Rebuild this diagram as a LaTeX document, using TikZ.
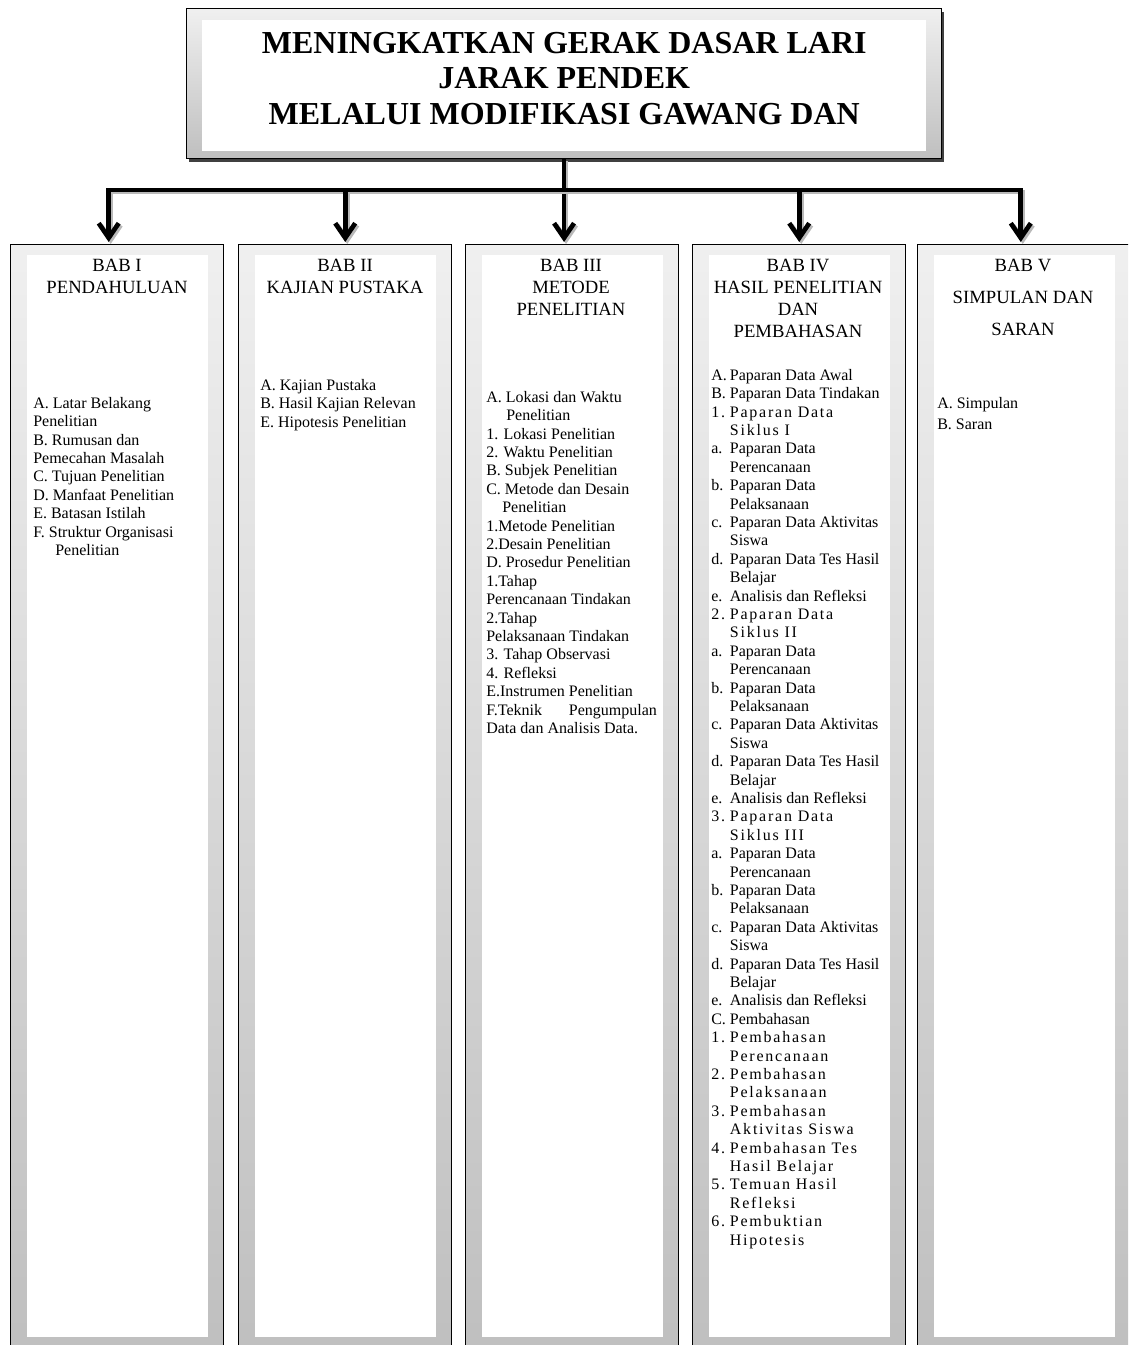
\documentclass[tikz,border=0pt]{standalone}
\usepackage{fontspec}
\setmainfont{Liberation Serif}
\usepackage{tikz}
\usetikzlibrary{arrows.meta,shadows}

\newcommand{\butir}[2]{\makebox[14pt][l]{#1}#2}
\newcommand{\lanjut}{\hspace*{14pt}}
\newcommand{\renggang}[1]{{\addfontfeature{LetterSpace=11}#1}}
\newcommand{\paparansiklus}{%
\butir{a.}{Paparan Data}\\
\lanjut Perencanaan\\
\butir{b.}{Paparan Data}\\
\lanjut Pelaksanaan\\
\butir{c.}{Paparan Data Aktivitas}\\
\lanjut Siswa\\
\butir{d.}{Paparan Data Tes Hasil}\\
\lanjut Belajar\\
\butir{e.}{Analisis dan Refleksi}}

\begin{document}
\begin{tikzpicture}[x=0.75pt,y=-0.75pt,>={Straight Barb[length=11pt,width=15pt]}]
\tikzstyle{bingkai}=[rectangle,draw=black,line width=1.1pt,top color=gray!12,bottom color=gray!50,inner sep=0pt,anchor=north west]
\tikzstyle{kertas}=[rectangle,fill=white,inner sep=0pt,anchor=north west]
\tikzstyle{panah}=[line width=3.5pt,preaction={draw=gray!55,line width=3.5pt,transform canvas={shift={(1.5pt,-1.5pt)}}}]
\tikzstyle{kepala}=[anchor=north,align=center,inner sep=0pt,font=\fontsize{14}{16.5}\selectfont]
\tikzstyle{daftar}=[anchor=north west,align=left,inner sep=0pt,font=\fontsize{12}{13.8}\selectfont]
\useasboundingbox (0,0) rectangle (1128,1345);
\clip (0,0) rectangle (1128,1345);

% judul
\node[bingkai,minimum width=566pt,minimum height=112.5pt,drop shadow={shadow xshift=2pt,shadow yshift=-2.5pt,fill=black!75,opacity=1}] (judul) at (186,8) {};
\node[kertas,minimum width=543pt,minimum height=98.25pt] (judulisi) at (202,20) {};
\node[anchor=center,align=center,font=\fontsize{24}{26.8}\selectfont\bfseries] (judulteks) at ([yshift=5.5pt]judulisi.center) {MENINGKATKAN GERAK DASAR LARI\\JARAK PENDEK\\MELALUI MODIFIKASI GAWANG DAN};

% kotak bab
\node[bingkai,minimum width=159.75pt,minimum height=829.5pt] (bab1) at (10,244) {};
\node[bingkai,minimum width=159.75pt,minimum height=829.5pt] (bab2) at (238,244) {};
\node[bingkai,minimum width=159.75pt,minimum height=829.5pt] (bab3) at (465,244) {};
\node[bingkai,minimum width=159.75pt,minimum height=829.5pt] (bab4) at (692,244) {};
\node[bingkai,minimum width=159.75pt,minimum height=829.5pt] (bab5) at (917,244) {};
\node[kertas,minimum width=135.75pt,minimum height=811.5pt] (isi1) at (27,255) {};
\node[kertas,minimum width=135.75pt,minimum height=811.5pt] (isi2) at (255,255) {};
\node[kertas,minimum width=135.75pt,minimum height=811.5pt] (isi3) at (482,255) {};
\node[kertas,minimum width=135.75pt,minimum height=811.5pt] (isi4) at (709,255) {};
\node[kertas,minimum width=135.75pt,minimum height=811.5pt] (isi5) at (934,255) {};

% panah
\coordinate (cabang) at (judul.south |- 0,190);
\draw[panah,->,shorten >=1.5pt] (judul.south) -- (judul.south |- bab3.north);
\draw[panah,->,shorten >=1.5pt] (cabang) -| ([xshift=-6.4pt]bab1.north);
\draw[panah,->,shorten >=1.5pt] (cabang -| bab2.north) -- (bab2.north);
\draw[panah,->,shorten >=1.5pt] (cabang) -| ([xshift=-2.6pt]bab5.north);
\draw[panah,->,shorten >=1.5pt] (cabang -| bab4.north) -- (bab4.north);

% judul bab
\node[kepala] (kepala1) at (117,259) {BAB I\\PENDAHULUAN};
\node[kepala] (kepala2) at (345,259) {BAB II\\KAJIAN PUSTAKA};
\node[kepala] (kepala3) at (571,259) {BAB III\\METODE\\PENELITIAN};
\node[kepala] (kepala4) at (798,259) {BAB IV\\HASIL PENELITIAN\\DAN\\PEMBAHASAN};
\node[kepala,font=\fontsize{14}{24}\selectfont] (kepala5) at (1023,259) {BAB V\\SIMPULAN DAN\\SARAN};

% isi bab
\node[daftar] (daftar1) at (33,397) {A. Latar Belakang\\Penelitian\\B. Rumusan dan\\Pemecahan Masalah\\C. Tujuan Penelitian\\D. Manfaat Penelitian\\E. Batasan Istilah\\F. Struktur Organisasi\\\hspace*{16.5pt}Penelitian};
\node[daftar] (daftar2) at (260,379) {A. Kajian Pustaka\\B. Hasil Kajian Relevan\\E. Hipotesis Penelitian};
\node[daftar] (daftar3) at (486,391) {A. Lokasi dan Waktu\\
\hspace*{15pt}Penelitian\\
1. Lokasi Penelitian\\
2. Waktu Penelitian\\
B. Subjek Penelitian\\
C. Metode dan Desain\\
\hspace*{12pt}Penelitian\\
1.Metode Penelitian\\
2.Desain Penelitian\\
D. Prosedur Penelitian\\
1.Tahap\\
Perencanaan Tindakan\\
2.Tahap\\
Pelaksanaan Tindakan\\
3. Tahap Observasi\\
4. Refleksi\\
E.Instrumen Penelitian\\
\makebox[128pt][s]{F.Teknik Pengumpulan}\\
Data dan Analisis Data.};
\node[daftar] (daftar4) at (711,369) {\butir{A.}{Paparan Data Awal}\\
\butir{B.}{Paparan Data Tindakan}\\
\renggang{\butir{1.}{Paparan Data}}\\
\renggang{\lanjut Siklus I}\\
\paparansiklus\\
\renggang{\butir{2.}{Paparan Data}}\\
\renggang{\lanjut Siklus II}\\
\paparansiklus\\
\renggang{\butir{3.}{Paparan Data}}\\
\renggang{\lanjut Siklus III}\\
\paparansiklus\\
\butir{C.}{Pembahasan}\\
\renggang{\butir{1.}{Pembahasan}}\\
\renggang{\lanjut Perencanaan}\\
\renggang{\butir{2.}{Pembahasan}}\\
\renggang{\lanjut Pelaksanaan}\\
\renggang{\butir{3.}{Pembahasan}}\\
\renggang{\lanjut Aktivitas Siswa}\\
\renggang{\butir{4.}{Pembahasan Tes}}\\
\renggang{\lanjut Hasil Belajar}\\
\renggang{\butir{5.}{Temuan Hasil}}\\
\renggang{\lanjut Refleksi}\\
\renggang{\butir{6.}{Pembuktian}}\\
\renggang{\lanjut Hipotesis}};
\node[daftar,font=\fontsize{12}{15.75}\selectfont] (daftar5) at (937,397) {A. Simpulan\\B. Saran};
\end{tikzpicture}
\end{document}
